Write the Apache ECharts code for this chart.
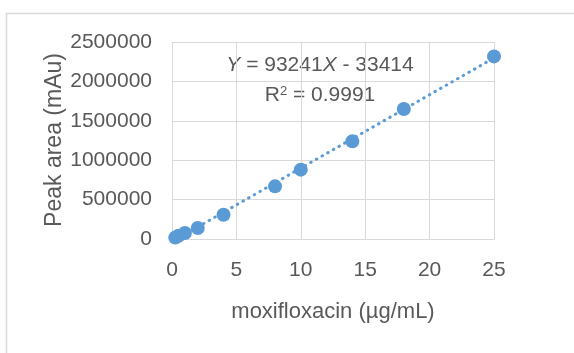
<!DOCTYPE html>
<html><head><meta charset="utf-8">
<script src="https://cdn.jsdelivr.net/npm/echarts@6/dist/echarts.min.js"></script>
<style>html,body{margin:0;padding:0;background:#fff}#c{width:574px;height:353px}</style>
</head><body><div id="c"></div>
<script>
const concentrations = [0.25, 0.5, 1, 2, 4, 8, 10, 14, 18, 25];
const peakAreas = [18000, 40000, 76000, 140000, 308000, 668000, 880000, 1239000, 1650000, 2317000];
const trendX = [0.25, 25];
const trendY = [-10100, 2297600];
const xTicks = [0, 5, 10, 15, 20, 25];
const yTicks = [0, 500000, 1000000, 1500000, 2000000, 2500000];

const font = 'Liberation Sans';
const txt = '#595959';
const blue = '#5B9BD5';
const chart = echarts.init(document.getElementById('c'), null, {renderer:'canvas'});
chart.setOption({
  animation:false,
  backgroundColor:'#fff',
  graphic:[
    {type:'rect', shape:{x:6.5, y:13.5, width:600, height:400}, style:{fill:'none', stroke:'#D9D9D9', lineWidth:1.5}},
    {type:'text', x:55, y:140, rotation:Math.PI/2, style:{
      text:'Peak area (mAu)', fontFamily:font, fontSize:23, fill:txt, align:'center', verticalAlign:'middle'}},
    {type:'text', x:320, y:65, style:{
      text:'{i|Y} = 93241{i|X} - 33414', rich:{i:{fontStyle:'italic', fontFamily:font, fontSize:21, fill:txt}},
      fontFamily:font, fontSize:21, fill:txt, align:'center', verticalAlign:'middle'}},
    {type:'text', x:320, y:95, style:{
      text:'R{s|2} = 0.9991', rich:{s:{fontSize:13, verticalAlign:'top', fontFamily:font, fill:txt, padding:[0,0,8,0]}},
      fontFamily:font, fontSize:21, fill:txt, align:'center', verticalAlign:'middle'}}
  ],
  grid:{left:172, right:80, top:42, bottom:114, containLabel:false},
  xAxis:{
    type:'value', min:xTicks[0], max:xTicks[xTicks.length-1], interval:5,
    axisLine:{show:true, lineStyle:{color:'#D9D9D9', width:1}},
    axisTick:{show:false},
    splitLine:{show:true, lineStyle:{color:'#D9D9D9', width:1}},
    axisLabel:{color:txt, fontFamily:font, fontSize:21, margin:21, formatter:v=>String(v)},
    name:'moxifloxacin (µg/mL)', nameLocation:'middle', nameGap:62,
    nameTextStyle:{color:txt, fontFamily:font, fontSize:22}
  },
  yAxis:{
    type:'value', min:yTicks[0], max:yTicks[yTicks.length-1], interval:500000,
    axisLine:{show:false}, axisTick:{show:false},
    splitLine:{show:true, lineStyle:{color:'#D9D9D9', width:1}},
    axisLabel:{color:txt, fontFamily:font, fontSize:21, margin:20, formatter:v=>String(v)}
  },
  series:[
    {type:'line', data:trendX.map((x,i)=>[x,trendY[i]]), symbol:'none', z:1,
     lineStyle:{color:blue, width:3, type:[0.5,6], cap:'round'}},
    {type:'scatter', data:concentrations.map((x,i)=>[x,peakAreas[i]]), symbol:'circle', symbolSize:14, z:2,
     itemStyle:{color:blue, opacity:1}}
  ]
});
</script></body></html>
